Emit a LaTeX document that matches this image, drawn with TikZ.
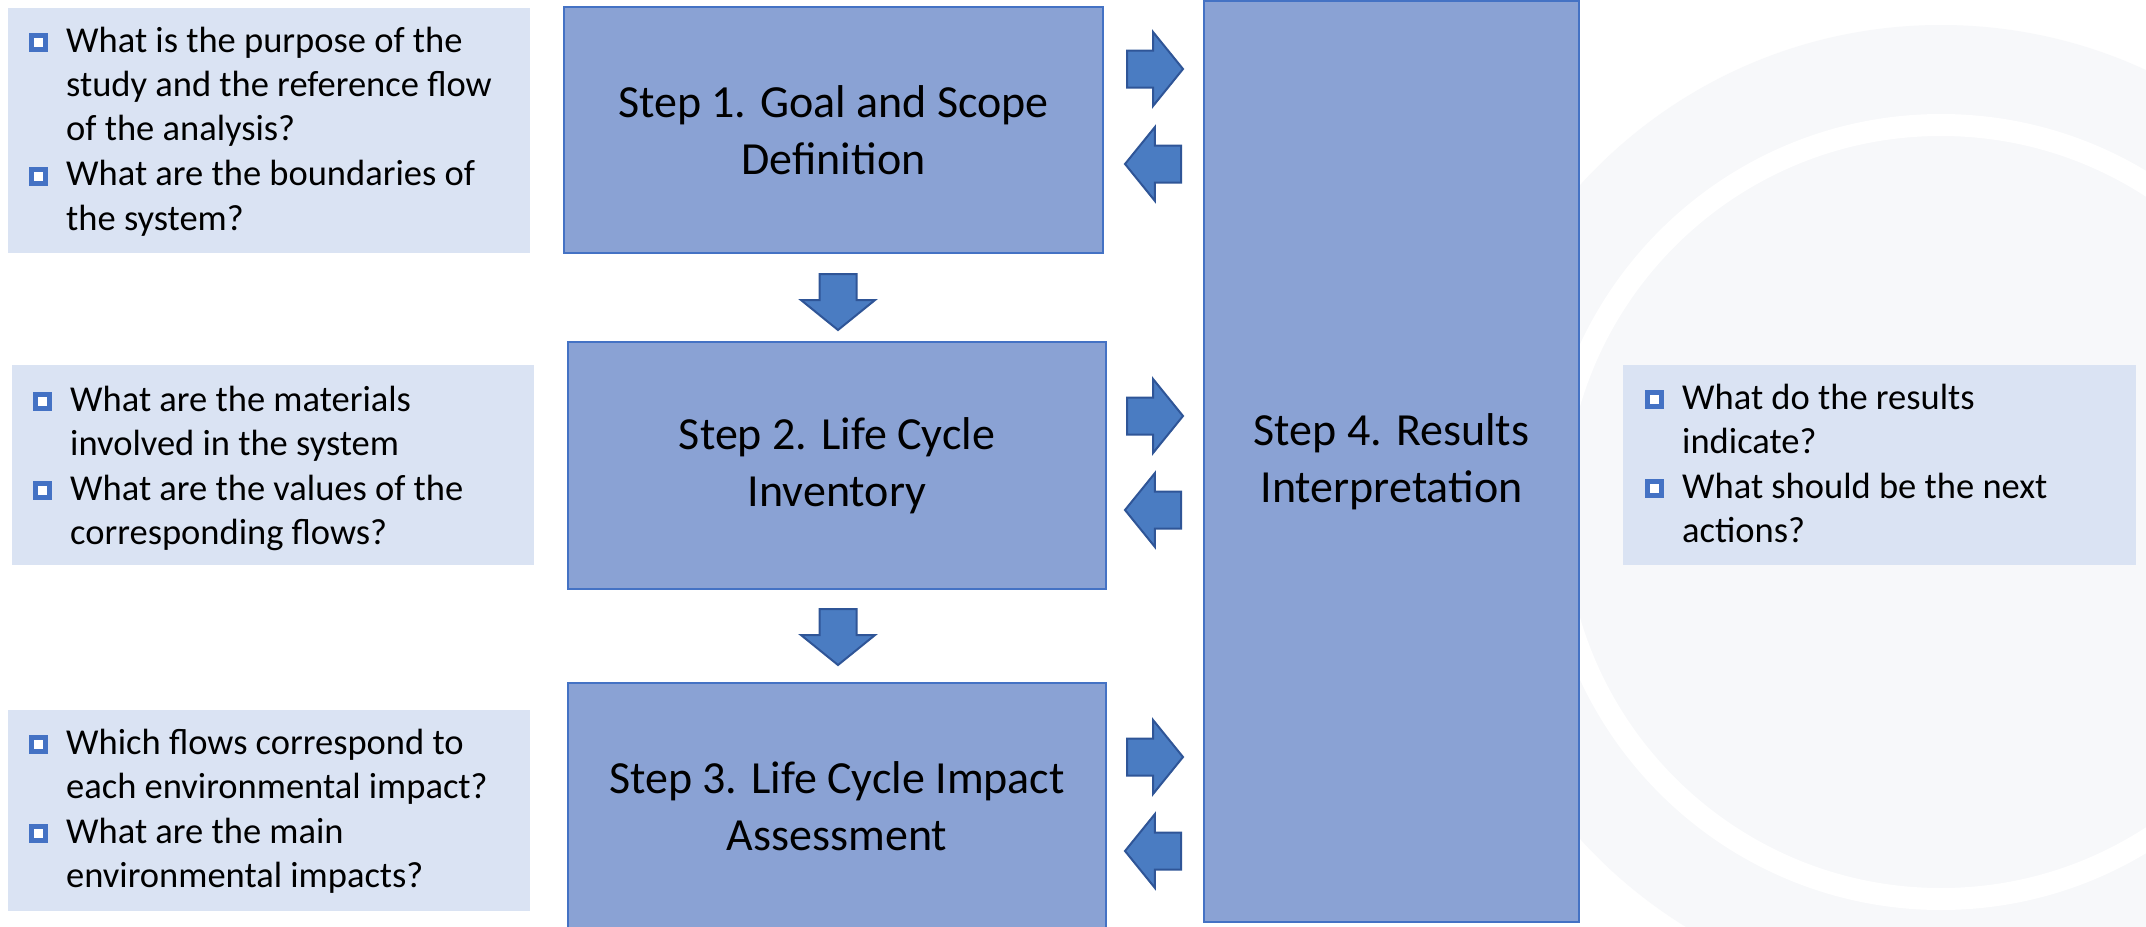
\documentclass[tikz,border=0pt]{standalone}
\usepackage{fontspec}
\setmainfont{Carlito}
\usetikzlibrary{shapes.arrows}

\definecolor{stepfill}{HTML}{8AA2D4}
\definecolor{stepline}{HTML}{4472C4}
\definecolor{qfill}{HTML}{DAE3F3}
\definecolor{bul}{HTML}{4472C4}
\definecolor{arrfill}{HTML}{4A7CC2}
\definecolor{arrline}{HTML}{2F5597}
\definecolor{wm}{RGB}{247,248,250}

% hollow square bullet, sitting on the baseline
\newcommand{\sqbullet}{\textcolor{bul}{\rule{19pt}{19pt}}\hspace{-14pt}\raisebox{5pt}{\textcolor{white}{\rule{9pt}{9pt}}}\hspace{5pt}}
\newcommand{\bq}{\makebox[37pt][l]{\sqbullet}}
\newcommand{\stepfont}{\fontsize{46}{57}\selectfont}
\newcommand{\qfont}{\fontsize{36.5}{44.5}\selectfont}

\begin{document}
\begin{tikzpicture}[x=1pt,y=-1pt,
  stepbox/.style={draw=stepline, line width=2.5pt, fill=stepfill, inner sep=0pt,
    align=center, font=\stepfont},
  qbox/.style={fill=qfill, inner sep=0pt, anchor=north west},
  qtext/.style={inner sep=0pt, anchor=base west, font=\qfont},
  blockarrow/.style={single arrow, draw=arrline, fill=arrfill, line width=2pt,
    minimum height=56pt, minimum width=72pt, single arrow head extend=18.5pt,
    single arrow tip angle=102, inner xsep=0pt, inner ysep=17.5pt, anchor=tail},
  toright/.style={blockarrow},
  toleft/.style={blockarrow, shape border rotate=180},
  todown/.style={blockarrow, rotate=-90},
]
\useasboundingbox[fill=white] (0,0) rectangle (2146,926);

% faint round watermark behind the right column
\fill[wm] (1941,512) circle [radius=487pt];
\draw[white, line width=22pt] (1941,512) circle [radius=387pt];

% question boxes on the left
\node[qbox, minimum width=522pt, minimum height=245pt] (q1) at (8,8) {};
\node[qtext] (q1t) at (29,52) {\begin{tabular}[t]{@{}l@{}l@{}}
  \bq & What is the purpose of the\\
      & study and the reference flow\\
      & of the analysis?\\
  \bq & What are the boundaries of\\
      & the system?
\end{tabular}};

\node[qbox, minimum width=522pt, minimum height=200pt] (q2) at (12,365) {};
\node[qtext] (q2t) at (33,411) {\begin{tabular}[t]{@{}l@{}l@{}}
  \bq & What are the materials\\
      & involved in the system\\
  \bq & What are the values of the\\
      & corresponding flows?
\end{tabular}};

\node[qbox, minimum width=522pt, minimum height=201pt] (q3) at (8,710) {};
\node[qtext] (q3t) at (29,754) {\begin{tabular}[t]{@{}l@{}l@{}}
  \bq & Which flows correspond to\\
      & each environmental impact?\\
  \bq & What are the main\\
      & environmental impacts?
\end{tabular}};

% question box on the right
\node[qbox, minimum width=513pt, minimum height=200pt] (q4) at (1623,365) {};
\node[qtext] (q4t) at (1645,409) {\begin{tabular}[t]{@{}l@{}l@{}}
  \bq & What do the results\\
      & indicate?\\
  \bq & What should be the next\\
      & actions?
\end{tabular}};

% the four steps
\node[stepbox, minimum width=539pt, minimum height=246pt] (s1) at (833.5,130)
  {Step 1. Goal and Scope\\Definition};
\node[stepbox, minimum width=538pt, minimum height=247pt] (s2) at (837,465.5)
  {Step 2. Life Cycle\\Inventory};
\node[stepbox, minimum width=538pt, minimum height=246pt] (s3) at (837,806)
  {Step 3. Life Cycle Impact\\Assessment};
\node[stepbox, minimum width=375pt, minimum height=921pt] (s4) at (1391.5,461.5)
  {Step 4. Results\\Interpretation};

% flow arrows between the steps
\node[todown] (d1) at (838,273) {};
\node[todown] (d2) at (838,608) {};

\node[toright] (r1) at (1126,69) {};
\node[toleft]  (l1) at (1182,164) {};
\node[toright] (r2) at (1126,416) {};
\node[toleft]  (l2) at (1182,510) {};
\node[toright] (r3) at (1126,757) {};
\node[toleft]  (l3) at (1182,851) {};
\end{tikzpicture}
\end{document}
